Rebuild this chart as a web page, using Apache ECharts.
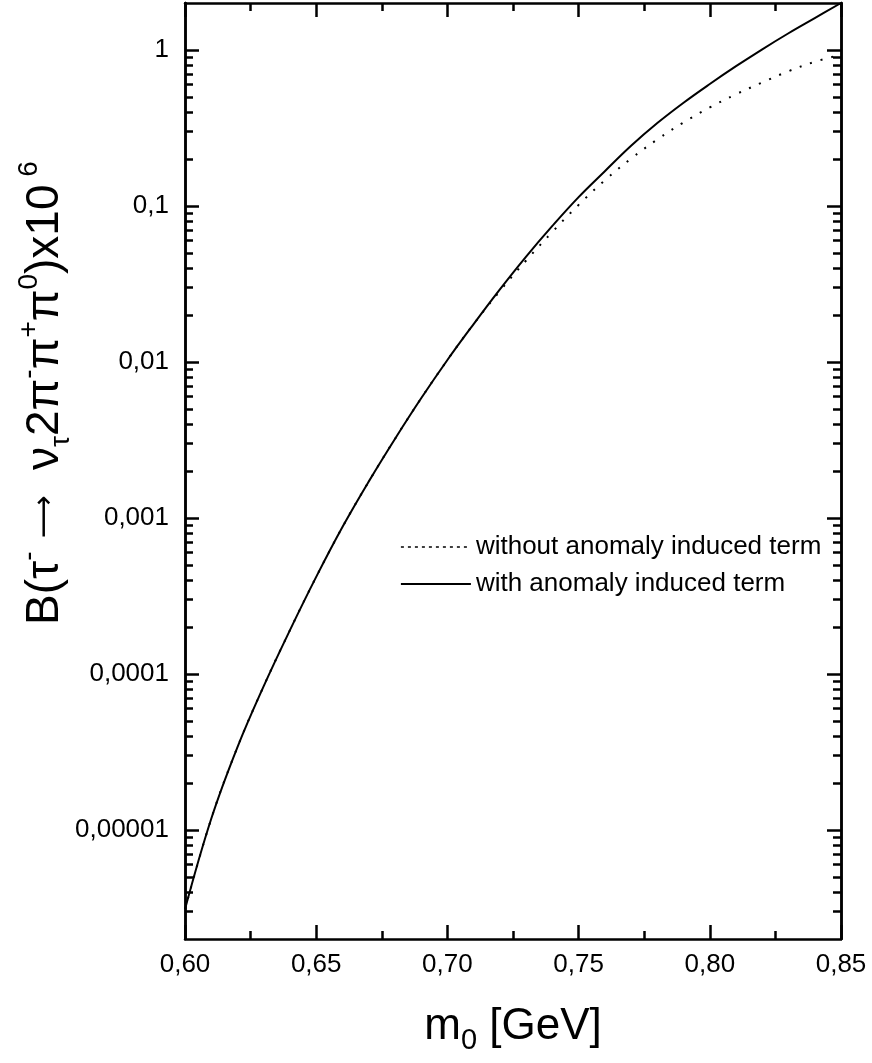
<!DOCTYPE html>
<html>
<head>
<meta charset="utf-8">
<script src="https://cdn.jsdelivr.net/npm/echarts@6/dist/echarts.min.js"></script>
<style>
  html, body { margin: 0; padding: 0; background: #fff; }
  #chart { width: 872px; height: 1063px; }
</style>
</head>
<body>
<div id="chart"></div>
<script>
// ---- data ----
const massValues = [0.600, 0.61, 0.62, 0.63, 0.64, 0.65, 0.66, 0.67, 0.68, 0.69,
                    0.70, 0.71, 0.72, 0.73, 0.74, 0.75, 0.76, 0.77, 0.78, 0.79,
                    0.80, 0.81, 0.82, 0.83, 0.84, 0.85];
const withAnomaly = [3.10e-6, 1.18e-5, 3.40e-5, 8.36e-5, 1.91e-4, 4.19e-4, 8.75e-4, 1.71e-3, 3.21e-3, 5.85e-3,
                     1.03e-2, 1.75e-2, 2.92e-2, 4.74e-2, 7.45e-2, 0.114, 0.167, 0.243, 0.340, 0.459,
                     0.605, 0.787, 1.01, 1.28, 1.60, 2.00];
const withoutAnomaly = [3.10e-6, 1.18e-5, 3.40e-5, 8.36e-5, 1.91e-4, 4.19e-4, 8.75e-4, 1.71e-3, 3.21e-3, 5.85e-3,
                        1.03e-2, 1.75e-2, 2.85e-2, 4.47e-2, 6.82e-2, 0.1016, 0.146, 0.201, 0.267, 0.343,
                        0.428, 0.520, 0.619, 0.731, 0.839, 0.933];
const seriesNames = ['without anomaly induced term', 'with anomaly induced term'];
const xTickValues = [0.60, 0.65, 0.70, 0.75, 0.80, 0.85];
const xTickLabels = ['0,60', '0,65', '0,70', '0,75', '0,80', '0,85'];
const yTickValues = [1e-5, 1e-4, 1e-3, 1e-2, 1e-1, 1];
const yTickLabels = ['0,00001', '0,0001', '0,001', '0,01', '0,1', '1'];
const yMinorMultipliers = [2, 3, 4, 5, 6, 7, 8, 9];
const yDecades = [1e-6, 1e-5, 1e-4, 1e-3, 1e-2, 1e-1, 1];

const Y_MIN = 2e-6, Y_MAX = 2;
const yMinorValues = [];
yDecades.forEach(d => yMinorMultipliers.forEach(m => {
  const v = m * d;
  if (v > Y_MIN * 1.0001 && v < Y_MAX * 0.9999) yMinorValues.push(v);
}));

const FONT = "'Liberation Sans', Arial, Helvetica, sans-serif";
const black = '#000';
const LW = 2.5;

function xLabel(v) {
  for (let i = 0; i < xTickValues.length; i++) {
    if (Math.abs(v - xTickValues[i]) < 1e-6) return xTickLabels[i];
  }
  return '';
}
function yLabel(v) {
  for (let i = 0; i < yTickValues.length; i++) {
    if (Math.abs(Math.log10(v) - Math.log10(yTickValues[i])) < 1e-6) return yTickLabels[i];
  }
  return '';
}

function makeX(position, showLabel) {
  return {
    type: 'value', position: position, min: 0.60, max: 0.85, interval: 0.05,
    axisLine: { show: true, onZero: false, lineStyle: { color: black, width: LW } },
    axisTick: { show: true, inside: true, length: 14, lineStyle: { color: black, width: LW } },
    minorTick: { show: true, splitNumber: 2, length: 8, lineStyle: { color: black, width: LW } },
    splitLine: { show: false }, minorSplitLine: { show: false },
    axisLabel: { show: showLabel, margin: 13, color: black, fontSize: 26, fontFamily: FONT, formatter: xLabel }
  };
}
function makeY(position, major, showLabel) {
  return {
    type: 'log', logBase: 10, position: position, min: Y_MIN, max: Y_MAX,
    axisLine: { show: true, onZero: false, lineStyle: { color: black, width: LW } },
    axisTick: { show: true, inside: true, length: major ? 14 : 8,
                customValues: major ? yTickValues : yMinorValues,
                lineStyle: { color: black, width: LW } },
    splitLine: { show: false },
    axisLabel: { show: showLabel, margin: 16, color: black, fontSize: 26, fontFamily: FONT,
                 customValues: yTickValues, formatter: yLabel }
  };
}

const chart = echarts.init(document.getElementById('chart'), null, { renderer: 'canvas' });
chart.setOption({
  backgroundColor: '#fff',
  animation: false,
  grid: { left: 185, right: 31, top: 3, bottom: 124, containLabel: false, outerBoundsMode: 'none' },
  xAxis: [makeX('bottom', true), makeX('top', false)],
  yAxis: [makeY('left', true, true), makeY('left', false, false),
          makeY('right', true, false), makeY('right', false, false)],
  legend: {
    orient: 'vertical', left: 400, top: 534, padding: 0, itemGap: 11,
    itemWidth: 70, itemHeight: 12, selectedMode: false,
    textStyle: { color: black, fontSize: 26, fontFamily: FONT },
    itemStyle: { opacity: 0, borderWidth: 0 },
    data: [
      { name: seriesNames[0], lineStyle: { type: [3, 4], width: 1.6, color: black }, itemStyle: { opacity: 0 } },
      { name: seriesNames[1], lineStyle: { type: 'solid', width: 1.8, color: black }, itemStyle: { opacity: 0 } }
    ]
  },
  series: [
    {
      name: seriesNames[0], type: 'line', xAxisIndex: 0, yAxisIndex: 0,
      data: massValues.map((x, i) => [x, withoutAnomaly[i]]),
      smooth: 0.4, symbol: 'none', showSymbol: false,
      lineStyle: { color: black, width: 2, type: [2, 9], cap: 'butt' },
      itemStyle: { color: black }, z: 2
    },
    {
      name: seriesNames[1], type: 'line', xAxisIndex: 0, yAxisIndex: 0,
      data: massValues.map((x, i) => [x, withAnomaly[i]]),
      smooth: 0.4, symbol: 'none', showSymbol: false,
      lineStyle: { color: black, width: 2, type: 'solid' },
      itemStyle: { color: black }, z: 3
    }
  ],
  graphic: [
    {
      type: 'text', x: 513, y: 1027,
      style: {
        text: '{m|m}{s|0}{m| [GeV]}',
        align: 'center', verticalAlign: 'middle', fill: black, fontFamily: FONT, fontSize: 44,
        rich: {
          m: { fontSize: 44, lineHeight: 56, fontFamily: FONT, fill: black },
          s: { fontSize: 29, lineHeight: 29, fontFamily: FONT, fill: black, verticalAlign: 'bottom' }
        }
      }
    },
    {
      type: 'text', x: 45, y: 393, rotation: Math.PI / 2,
      style: {
        text: '{b|B(τ}{p|-}{b| }{a|⟶}{b|  ν}{s|τ}{b|2π}{p|-}{b|π}{p|+}{b|π}{p|0}{b|)x10}{p| 6}',
        align: 'center', verticalAlign: 'middle', fill: black, fontFamily: FONT, fontSize: 46,
        rich: {
          b: { fontSize: 46, lineHeight: 60, fontFamily: FONT, fill: black },
          a: { fontSize: 30, lineHeight: 60, fontFamily: "'DejaVu Sans', sans-serif", fill: black },
          p: { fontSize: 28, lineHeight: 30, fontFamily: FONT, fill: black, verticalAlign: 'top' },
          s: { fontSize: 28, lineHeight: 30, fontFamily: FONT, fill: black, verticalAlign: 'bottom' }
        }
      }
    }
  ]
});
</script>
</body>
</html>
